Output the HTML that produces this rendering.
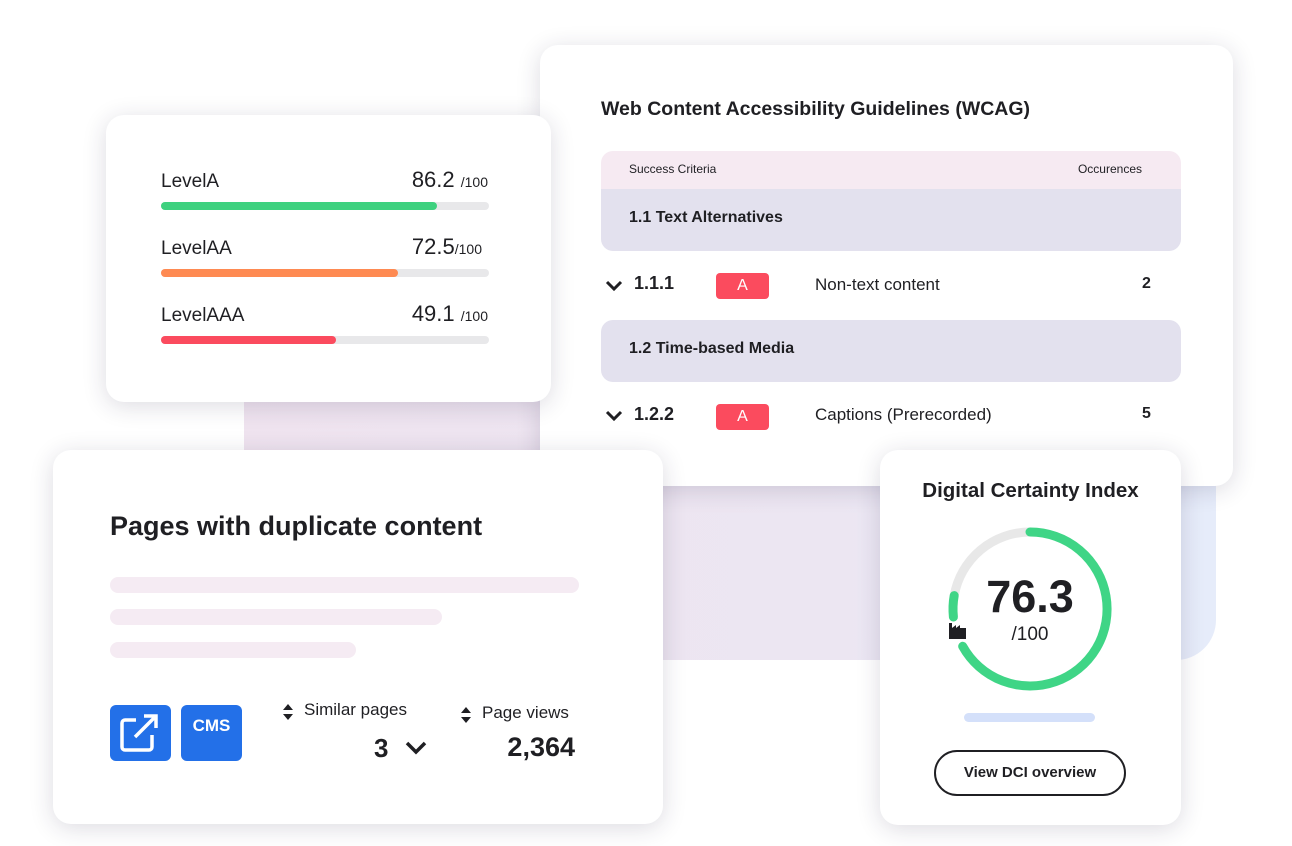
<!DOCTYPE html>
<html><head><style>
*{margin:0;padding:0;box-sizing:border-box}
body{width:1292px;height:846px;background:#fff;position:relative;overflow:hidden;font-family:"Liberation Sans",sans-serif;color:#1f1f23}
.a{position:absolute}
.card{position:absolute;background:#fff;border-radius:18px;box-shadow:0 4px 24px rgba(40,30,70,.16)}
.bar{position:absolute;height:8px;border-radius:4px;background:#e8e8ea}
.bar i{position:absolute;left:0;top:0;height:8px;border-radius:4px}
.lbl{position:absolute;font-size:19px}
.num{position:absolute;font-size:22px;text-align:right}
.num small{font-size:14px}
.sec{position:absolute;left:601px;width:580px;height:62px;background:#e3e1ee;border-radius:0 0 12px 12px;font-weight:bold;font-size:16px;padding-left:28px;line-height:58px}
.tag{position:absolute;width:53px;height:26px;background:#fb4b5e;border-radius:4px;color:#fff;text-align:center;font-size:16px;line-height:26px}
.pill{position:absolute;height:16px;border-radius:8px;background:#f5ebf3}
</style></head><body>
<div class="a" style="left:244px;top:370px;width:972px;height:290px;border-radius:0 0 40px 0;background:linear-gradient(90deg,#efe3ef,#ece6f2 60%,#e6ecfa)"></div>

<div class="card" style="left:540px;top:45px;width:693px;height:441px"></div>
<div class="a" style="left:601px;top:98px;font-size:19.5px;font-weight:bold">Web Content Accessibility Guidelines (WCAG)</div>
<div class="a" style="left:601px;top:151px;width:580px;height:40px;background:#f6eaf2;border-radius:12px 12px 0 0;font-size:12px;line-height:36px"><span style="position:absolute;left:28px">Success Criteria</span><span style="position:absolute;right:39px">Occurences</span></div>
<div class="sec" style="top:189px">1.1 Text Alternatives</div>
<svg class="a" style="left:605px;top:280px" width="18" height="12"><path d="M2 2 L9 9 L16 2" stroke="#1f1f23" stroke-width="3" fill="none"/></svg>
<div class="a" style="left:634px;top:273px;font-size:18px;font-weight:bold">1.1.1</div>
<div class="tag" style="left:716px;top:273px">A</div>
<div class="a" style="left:815px;top:275px;font-size:17px">Non-text content</div>
<div class="a" style="left:1142px;top:275px;font-size:16px;font-weight:bold">2</div>
<div class="sec" style="top:320px;border-radius:12px">1.2 Time-based Media</div>
<svg class="a" style="left:605px;top:410px" width="18" height="12"><path d="M2 2 L9 9 L16 2" stroke="#1f1f23" stroke-width="3" fill="none"/></svg>
<div class="a" style="left:634px;top:404px;font-size:18px;font-weight:bold">1.2.2</div>
<div class="tag" style="left:716px;top:404px">A</div>
<div class="a" style="left:815px;top:405px;font-size:17px">Captions (Prerecorded)</div>
<div class="a" style="left:1142px;top:405px;font-size:16px;font-weight:bold">5</div>

<div class="card" style="left:106px;top:115px;width:445px;height:287px"></div>
<div class="lbl" style="left:161px;top:171px">LevelA</div>
<div class="num" style="left:340px;top:167px;width:148px">86.2 <small>/100</small></div>
<div class="bar" style="left:161px;top:202px;width:328px"><i style="width:276px;background:#3ed17f"></i></div>
<div class="lbl" style="left:161px;top:238px">LevelAA</div>
<div class="num" style="left:340px;top:234px;width:142px">72.5<small>/100</small></div>
<div class="bar" style="left:161px;top:269px;width:328px"><i style="width:237px;background:#fe8a52"></i></div>
<div class="lbl" style="left:161px;top:305px">LevelAAA</div>
<div class="num" style="left:340px;top:301px;width:148px">49.1 <small>/100</small></div>
<div class="bar" style="left:161px;top:336px;width:328px"><i style="width:175px;background:#fb4b5e"></i></div>

<div class="card" style="left:53px;top:450px;width:610px;height:374px"></div>
<div class="a" style="left:110px;top:511px;font-size:27px;font-weight:bold">Pages with duplicate content</div>
<div class="pill" style="left:110px;top:577px;width:469px"></div>
<div class="pill" style="left:110px;top:609px;width:332px"></div>
<div class="pill" style="left:110px;top:642px;width:246px"></div>
<div class="a" style="left:110px;top:705px;width:61px;height:56px;background:#2370e8;border-radius:6px">
<svg width="61" height="56"><rect x="12" y="15" width="30" height="30" rx="3" fill="none" stroke="#fff" stroke-width="3.5"/><rect x="26" y="10" width="22" height="20" fill="#2370e8"/><path d="M25 32 L46 11 M34 11 H46 V23" stroke="#fff" stroke-width="3.5" fill="none"/></svg></div>
<div class="a" style="left:181px;top:705px;width:61px;height:56px;background:#2370e8;border-radius:6px;color:#fff;font-weight:bold;font-size:17px;text-align:center;line-height:42px">CMS</div>
<svg class="a" style="left:282px;top:703px" width="12" height="18"><path d="M1 7 L6 1 L11 7Z M1 11 L6 17 L11 11Z" fill="#1f1f23"/></svg>
<div class="a" style="left:304px;top:700px;font-size:17px">Similar pages</div>
<div class="a" style="left:374px;top:733px;font-size:26px;font-weight:bold">3</div>
<svg class="a" style="left:404px;top:740px" width="24" height="16"><path d="M3 3 L12 12 L21 3" stroke="#1f1f23" stroke-width="3.5" fill="none"/></svg>
<svg class="a" style="left:460px;top:706px" width="12" height="18"><path d="M1 7 L6 1 L11 7Z M1 11 L6 17 L11 11Z" fill="#1f1f23"/></svg>
<div class="a" style="left:482px;top:703px;font-size:17px">Page views</div>
<div class="a" style="left:455px;top:732px;width:120px;text-align:right;font-size:27px;font-weight:bold">2,364</div>

<div class="card" style="left:880px;top:450px;width:301px;height:375px"></div>
<div class="a" style="left:880px;top:479px;width:301px;text-align:center;font-size:20.5px;font-weight:bold">Digital Certainty Index</div>
<svg class="a" style="left:0;top:0" width="1292" height="846">
<path d="M954.2,595.6 A77 77 0 0 1 1030,532" stroke="#e8e8e8" stroke-width="9" fill="none"/>
<path d="M1030,532 A77 77 0 1 1 962.7,646.3" stroke="#3fd586" stroke-width="9" fill="none" stroke-linecap="round"/>
<path d="M953.4,617 A77 77 0 0 1 954.2,595.6" stroke="#3fd586" stroke-width="9" fill="none" stroke-linecap="round"/>
<path d="M949 623 h3 v5 l4 -3 v3 l4 -3 v3 h6 v11 h-17z" fill="#1f1f23"/>
</svg>
<div class="a" style="left:930px;top:571px;width:200px;text-align:center;font-size:45px;font-weight:bold">76.3</div>
<div class="a" style="left:930px;top:624px;width:200px;text-align:center;font-size:19px">/100</div>
<div class="a" style="left:964px;top:713px;width:131px;height:9px;border-radius:5px;background:#d4e0fa"></div>
<div class="a" style="left:934px;top:750px;width:192px;height:46px;border:2px solid #1f1f23;border-radius:23px;text-align:center;line-height:41px;font-size:15px;font-weight:bold">View DCI overview</div>
</body></html>
